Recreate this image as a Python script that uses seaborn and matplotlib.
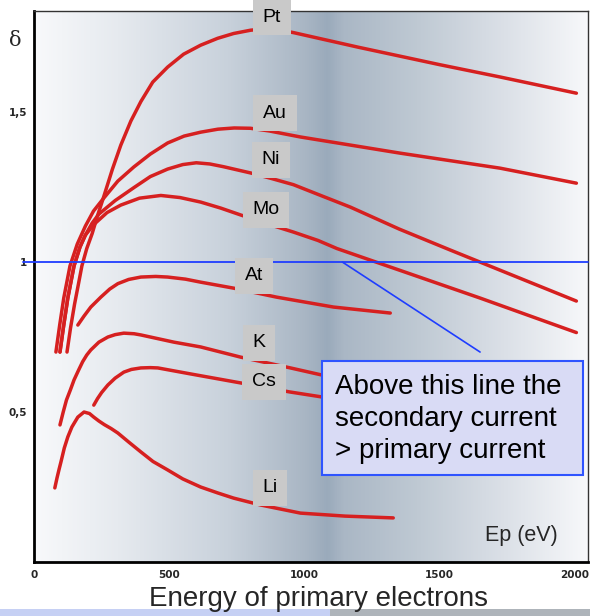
import numpy as np
import pandas as pd
import matplotlib
matplotlib.use("Agg")
import matplotlib.pyplot as plt
from matplotlib.colors import LinearSegmentedColormap
from matplotlib.patches import Rectangle
import seaborn as sns

# Secondary electron yield (delta) versus primary electron energy (eV)
energy_pt = [122, 135, 150, 165, 177, 195, 215, 235, 255, 290, 321, 358, 395, 439, 494, 553, 616, 679, 738, 801, 850, 900, 959, 1200, 1500, 1723, 2005]
delta_pt  = [0.70, 0.78, 0.86, 0.93, 0.987, 1.045, 1.095, 1.155, 1.21, 1.31, 1.39, 1.47, 1.535, 1.60, 1.65, 1.693, 1.723, 1.746, 1.762, 1.773, 1.777, 1.775, 1.765, 1.716, 1.658, 1.617, 1.563]

energy_au = [81, 95, 110, 133, 160, 190, 220, 255, 310, 369, 430, 494, 555, 616, 680, 740, 800, 870, 985, 1354, 1723, 2005]
delta_au  = [0.70, 0.79, 0.88, 0.987, 1.06, 1.12, 1.17, 1.21, 1.27, 1.317, 1.36, 1.397, 1.42, 1.433, 1.443, 1.447, 1.446, 1.437, 1.417, 1.363, 1.313, 1.263]

energy_ni = [96, 110, 125, 148, 170, 190, 215, 240, 300, 369, 430, 494, 550, 600, 650, 700, 801, 880, 959, 1060, 1170, 1350, 1539, 1750, 2005]
delta_ni  = [0.70, 0.79, 0.88, 0.987, 1.05, 1.09, 1.13, 1.16, 1.205, 1.248, 1.285, 1.31, 1.325, 1.331, 1.327, 1.318, 1.297, 1.278, 1.258, 1.222, 1.183, 1.11, 1.04, 0.963, 0.87]

energy_mo = [96, 110, 125, 148, 170, 190, 221, 270, 321, 390, 469, 540, 616, 690, 764, 870, 959, 1050, 1120, 1354, 1649, 2005]
delta_mo  = [0.70, 0.79, 0.88, 0.987, 1.05, 1.09, 1.125, 1.165, 1.19, 1.213, 1.222, 1.215, 1.20, 1.18, 1.157, 1.125, 1.10, 1.072, 1.045, 0.972, 0.88, 0.765]

energy_at = [162, 185, 210, 247, 280, 310, 350, 395, 450, 494, 560, 616, 738, 897, 1107, 1317]
delta_at  = [0.79, 0.82, 0.85, 0.883, 0.91, 0.928, 0.942, 0.95, 0.952, 0.95, 0.943, 0.933, 0.913, 0.883, 0.85, 0.83]

energy_k = [96, 108, 120, 135, 148, 165, 180, 195, 210, 240, 273, 300, 332, 370, 395, 517, 616, 764, 948, 1066, 1250]
delta_k  = [0.457, 0.50, 0.54, 0.575, 0.607, 0.64, 0.668, 0.69, 0.707, 0.733, 0.75, 0.758, 0.763, 0.761, 0.757, 0.733, 0.717, 0.683, 0.647, 0.623, 0.59]

energy_cs = [221, 235, 250, 273, 300, 332, 360, 395, 430, 458, 579, 764, 945, 1066, 1250]
delta_cs  = [0.523, 0.545, 0.565, 0.59, 0.613, 0.633, 0.642, 0.647, 0.648, 0.647, 0.627, 0.597, 0.567, 0.55, 0.525]

energy_li = [77, 85, 93, 100, 112, 125, 140, 162, 185, 205, 221, 240, 260, 285, 310, 350, 395, 440, 494, 550, 616, 680, 738, 838, 985, 1150, 1328]
delta_li  = [0.247, 0.28, 0.31, 0.335, 0.38, 0.417, 0.45, 0.483, 0.50, 0.495, 0.483, 0.47, 0.458, 0.445, 0.43, 0.40, 0.367, 0.335, 0.307, 0.277, 0.25, 0.23, 0.213, 0.19, 0.163, 0.153, 0.147]

metals = ["Pt", "Au", "Ni", "Mo", "At", "K", "Cs", "Li"]
curves = {
    "Pt": (energy_pt, delta_pt), "Au": (energy_au, delta_au),
    "Ni": (energy_ni, delta_ni), "Mo": (energy_mo, delta_mo),
    "At": (energy_at, delta_at), "K": (energy_k, delta_k),
    "Cs": (energy_cs, delta_cs), "Li": (energy_li, delta_li),
}

x_ticks = [0, 500, 1000, 1500, 2000]
x_tick_labels = ["0", "500", "1000", "1500", "2000"]
y_ticks = [0.5, 1.0, 1.5]
y_tick_labels = ["0,5", "1", "1,5"]

unity_delta = 1.0
note_text = "Above this line the\nsecondary current\n> primary current"
note_pointer_energy = [1140, 1649]
note_pointer_delta = [1.0, 0.70]

df = pd.concat(
    [pd.DataFrame({"metal": m, "energy": curves[m][0], "delta": curves[m][1]}) for m in metals],
    ignore_index=True,
)

sns.set_style("white")
plt.rcParams["font.family"] = ["Liberation Sans", "DejaVu Sans"]

W, H = 590, 616
fig = plt.figure(figsize=(W / 100, H / 100), dpi=100)
fig.patch.set_facecolor("white")


def fx(px):
    return px / W


def fy(py):
    return 1 - py / H


ax_l, ax_r, ax_t, ax_b = 34, 588, 11, 562
ax = fig.add_axes([fx(ax_l), fy(ax_b), (ax_r - ax_l) / W, (ax_b - ax_t) / H])
xmin, xmax, ymin, ymax = 0, 2048, 0, 1.837
ax.set_xlim(xmin, xmax)
ax.set_ylim(ymin, ymax)

# Horizontal background shading
shade = LinearSegmentedColormap.from_list(
    "shade",
    [(0.0, "#f8f9fb"), (0.15, "#e6eaef"), (0.35, "#c8d1db"), (0.49, "#a9b6c4"),
     (0.53, "#9aaabb"), (0.56, "#aab7c5"), (0.70, "#c0cad4"), (0.85, "#dbe0e7"),
     (1.0, "#f7f8fa")],
)
ax.imshow(np.linspace(0, 1, 512)[None, :], cmap=shade, aspect="auto",
          extent=[xmin, xmax, ymin, ymax], zorder=0, interpolation="bilinear")

sns.lineplot(data=df, x="energy", y="delta", units="metal", estimator=None, sort=False,
             color="#d62020", linewidth=2.5, ax=ax, zorder=3,
             solid_joinstyle="round", solid_capstyle="round")

# delta = 1 reference and pointer to the note
ax.axhline(unity_delta, color="#1f3dff", lw=1.3, zorder=4, xmin=-0.02, clip_on=False)
ax.plot(note_pointer_energy, note_pointer_delta, color="#1f3dff", lw=1.2, zorder=4)

ax.set_xlabel("")
ax.set_ylabel("")
ax.set_xticks(x_ticks)
ax.set_xticklabels(x_tick_labels, fontsize=7.5, fontweight="bold", family="DejaVu Sans")
ax.set_yticks(y_ticks)
ax.set_yticklabels(y_tick_labels, fontsize=7.5, fontweight="bold", family="DejaVu Sans")
ax.tick_params(axis="both", direction="in", length=4, width=1.2, color="black", pad=5)
ax.tick_params(axis="x", pad=6)

for side in ("left", "bottom"):
    ax.spines[side].set_linewidth(2.0)
    ax.spines[side].set_color("black")
for side in ("top", "right"):
    ax.spines[side].set_linewidth(1.0)
    ax.spines[side].set_color("#333333")

# Curve name tags
tag_pos = {"Pt": (272, 17), "Au": (275, 113), "Ni": (271, 160), "Mo": (266, 210),
           "At": (254, 276), "K": (259, 343), "Cs": (264, 382), "Li": (270, 488)}
for m in metals:
    x, y = tag_pos[m]
    fig.text(fx(x), fy(y), m, fontsize=14, ha="center", va="center", color="black", zorder=10,
             bbox=dict(boxstyle="square,pad=0.5", fc="#c9c9c9", ec="none"))

# Note box
fig.patches.append(Rectangle((fx(322), fy(475)), (583 - 322) / W, (475 - 361) / H,
                             transform=fig.transFigure, fc="#d9dbf5", ec="#2f54ff", lw=1.5, zorder=8))
fig.text(fx(335), fy(419), note_text, fontsize=20, ha="left", va="center",
         linespacing=1.3, color="black", zorder=9)

fig.text(fx(521), fy(535), "Ep (eV)", fontsize=15.5, ha="center", va="center", zorder=9)
fig.text(fx(15), fy(40), "δ", fontsize=15, ha="center", va="center", family="DejaVu Serif")
fig.text(fx(318), fy(599), "Energy of primary electrons", fontsize=20, ha="center", va="center")

# Thin strip along the bottom edge
fig.patches.append(Rectangle((0, 0), fx(330), 7 / H, transform=fig.transFigure,
                             fc="#c6d0f4", ec="none", zorder=0))
fig.patches.append(Rectangle((fx(330), 0), 1 - fx(330), 7 / H, transform=fig.transFigure,
                             fc="#aeb4ba", ec="none", zorder=0))

fig.savefig("out.png", dpi=100)
